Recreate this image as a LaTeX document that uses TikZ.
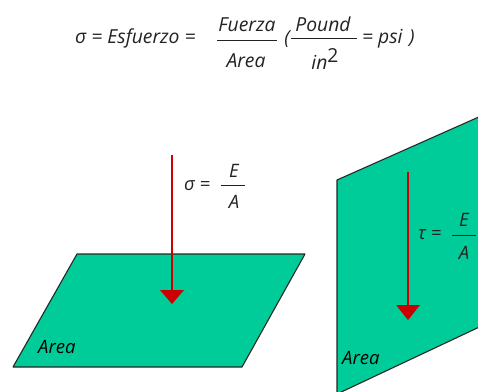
\documentclass[tikz,border=0pt]{standalone}
\usepackage{fontspec}
\setmainfont{Open Sans}
\definecolor{planegreen}{HTML}{00CC99}
\definecolor{arrowred}{HTML}{CC0000}
\definecolor{inkgrey}{HTML}{222222}
\tikzset{
  plane/.style={fill=planegreen,draw=black!85,line width=1.1pt,line join=round},
  forcearrow/.style={draw=arrowred,line width=2.2pt},
  forcehead/.style={fill=arrowred,draw=none},
  lab/.style={inner sep=0pt,font=\fontsize{19.3}{20}\selectfont\itshape,text=inkgrey},
  small/.style={lab,font=\fontsize{18.5}{19}\selectfont\itshape},
  fracbar/.style={draw=inkgrey,line width=0.9pt}
}
\begin{document}
\begin{tikzpicture}[x=1pt,y=-1pt]
\useasboundingbox (0,0) rectangle (478,391);
\begin{scope}
\clip (0,0) rectangle (478,391);
% left plane
\coordinate (la) at (77,254);
\coordinate (lb) at (305,254);
\coordinate (lc) at (242,367);
\coordinate (ld) at (13,367);
\draw[plane] (la) -- (lb) -- (lc) -- (ld) -- cycle;
% right plane
\coordinate (ra) at (337,180);
\coordinate (rb) at (490,112);
\coordinate (rc) at (490,322);
\coordinate (rd) at (337,394);
\fill[planegreen] (ra) -- (rb) -- (rc) -- (rd) -- cycle;
\draw[plane,fill=none] (rb) -- (ra) -- (rd) -- (rc);
\end{scope}
% arrows
\coordinate (s1) at (172,155);
\coordinate (h1) at (172,291);
\coordinate (t1) at (172,304);
\draw[forcearrow] (s1) -- (h1);
\fill[forcehead] (160,290) -- (184,290) -- (t1) -- cycle;
\coordinate (s2) at (408,172);
\coordinate (h2) at (408,306);
\coordinate (t2) at (408,320);
\draw[forcearrow] (s2) -- (h2);
\fill[forcehead] (396,305) -- (420,305) -- (t2) -- cycle;
% title formula
\node[lab,anchor=west] (t0) at (75,38.5) {σ = Esfuerzo =};
\node[lab] (fu) at (247,25) {Fuerza};
\draw[fracbar] (217,40) -- (277,40);
\node[lab] (ar) at (246,61) {Area};
\node[lab] (op) at (287,39) {(};
\node[lab] (po) at (323,24) {Pound};
\draw[fracbar] (291,38) -- (357,38);
\node[lab] (in) at (325,59) {in\raisebox{0.4em}{\upshape 2}};
\node[lab,anchor=west] (ps) at (362,38.5) {= psi\,\,)};
% left labels
\node[small,anchor=west] (se) at (184,186) {σ =};
\node[small] (e1) at (234,171) {E};
\draw[fracbar] (221,185) -- (245,185);
\node[small] (a1) at (234,202) {A};
\node[small,anchor=west,text=black] (ar1) at (38,347) {Area};
% right labels
\node[small,anchor=west] (te) at (418,235) {τ =};
\node[small] (e2) at (464,220) {E};
\draw[fracbar] (452,235) -- (476,235);
\node[small] (a2) at (464,253) {A};
\node[small,anchor=west,text=black] (ar2) at (342,358) {Area};
\end{tikzpicture}
\end{document}
